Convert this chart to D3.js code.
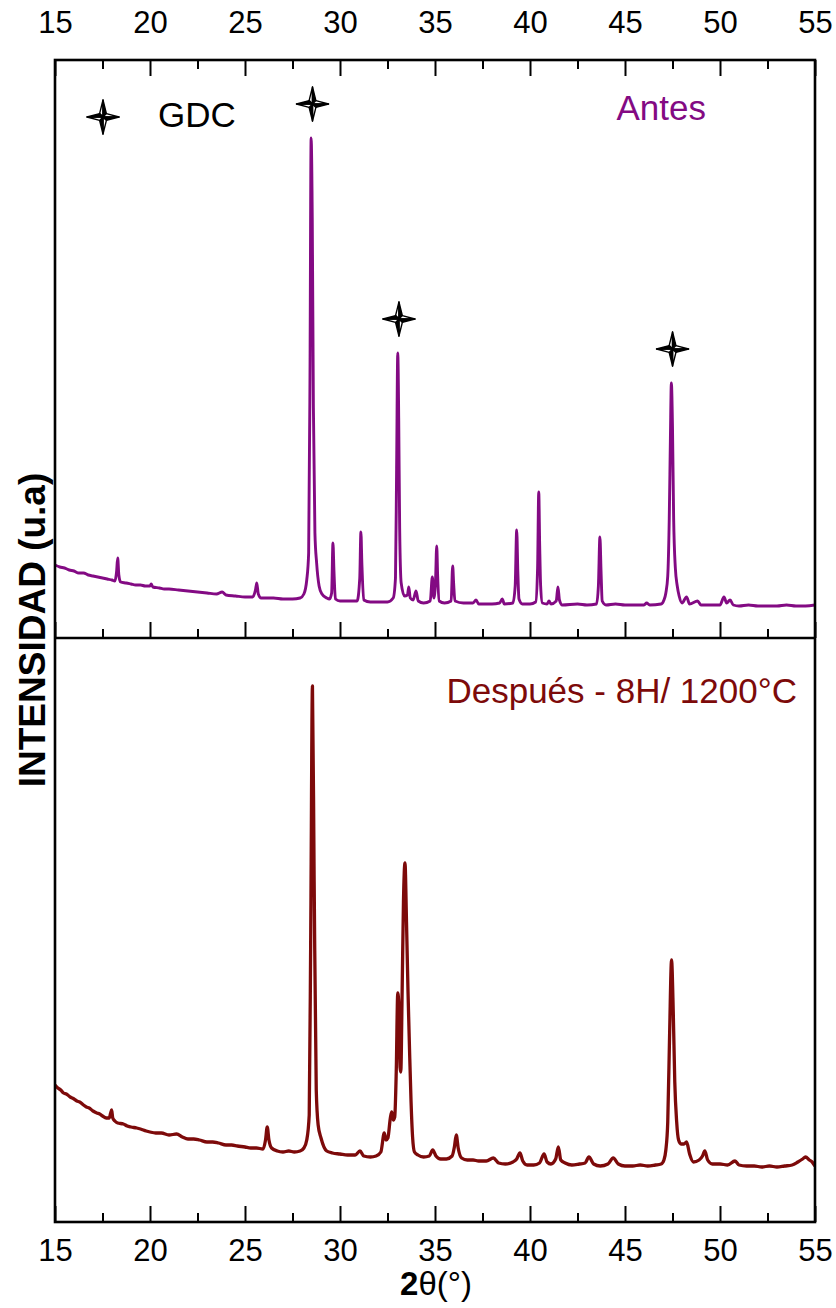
<!DOCTYPE html>
<html>
<head>
<meta charset="utf-8">
<script src="https://cdn.jsdelivr.net/npm/d3@7"></script>
<style>
  html, body { margin: 0; padding: 0; background: #ffffff; }
  svg { display: block; }
</style>
</head>
<body>
<svg id="chart" width="836" height="1308"></svg>
<script>
// X-ray diffraction patterns of GDC, before and after 8 h at 1200 °C
const majorTicks = [15, 20, 25, 30, 35, 40, 45, 50, 55];
const minorTicks = [17.5, 22.5, 27.5, 32.5, 37.5, 42.5, 47.5, 52.5];

const seriesNames = ["Antes", "Después - 8H/ 1200°C"];
const legendLabel = "GDC";
const gdcPeaks = [28.5, 33.05, 47.45];

// "Antes" pattern: 2θ (°) and intensity (a.u.)
const antesTheta = [
  15.00, 15.25, 15.50, 15.75, 16.00, 16.25, 16.50, 16.75, 17.00, 17.25, 17.50, 17.75, 18.00, 18.15, 18.24, 18.30, 18.36, 18.45, 18.75, 19.00,
  19.25, 19.50, 19.75, 20.00, 20.06, 20.15, 20.50, 20.75, 21.00, 21.50, 22.00, 22.50, 23.00, 23.50, 23.80, 24.00, 24.50, 25.00, 25.40, 25.55,
  25.62, 25.70, 25.85, 26.50, 27.00, 27.50, 27.90, 28.10, 28.25, 28.35, 28.42, 28.48, 28.54, 28.60, 28.68, 28.77, 28.90, 29.05, 29.30, 29.45,
  29.56, 29.63, 29.68, 29.76, 30.00, 30.50, 30.90, 31.04, 31.10, 31.15, 31.25, 31.60, 32.00, 32.50, 32.80, 32.92, 32.98, 33.04, 33.09, 33.14,
  33.22, 33.40, 33.55, 33.62, 33.70, 33.85, 34.00, 34.12, 34.40, 34.75, 34.86, 34.94, 35.03, 35.09, 35.14, 35.22, 35.50, 35.85, 35.93, 35.98,
  36.05, 36.50, 37.00, 37.16, 37.30, 38.00, 38.40, 38.54, 38.65, 39.10, 39.22, 39.30, 39.36, 39.42, 39.60, 40.00, 40.30, 40.40, 40.46, 40.51,
  40.56, 40.65, 40.90, 41.00, 41.10, 41.38, 41.47, 41.55, 41.70, 42.50, 43.00, 43.50, 43.60, 43.68, 43.74, 43.80, 44.00, 44.50, 45.00, 45.50,
  46.00, 46.14, 46.30, 46.90, 47.05, 47.15, 47.25, 47.33, 47.39, 47.44, 47.50, 47.56, 47.65, 47.75, 47.85, 48.00, 48.24, 48.40, 48.82, 49.00,
  49.50, 50.00, 50.21, 50.35, 50.53, 50.70, 51.00, 51.50, 52.00, 52.50, 53.00, 53.50, 54.00, 54.50, 55.00
];
const antesIntensity = [
  73, 71, 70, 68, 67, 65, 65, 63, 62, 61, 60, 59, 58, 57, 66, 80, 63, 56, 55, 54,
  53, 53, 52, 52, 54, 51, 50, 49, 49, 48, 47, 46, 45, 44, 46, 43, 42, 41, 41, 48,
  55, 44, 40, 40, 39, 39, 40, 44, 58, 85, 260, 500, 420, 230, 105, 75, 52, 44, 40, 39,
  45, 95, 68, 39, 37, 37, 37, 60, 106, 75, 38, 36, 36, 36, 40, 60, 170, 285, 220, 110,
  55, 42, 43, 51, 40, 38, 47, 37, 35, 37, 61, 40, 58, 92, 62, 37, 35, 37, 72, 55,
  37, 35, 35, 38, 34, 34, 35, 39, 34, 35, 52, 108, 66, 39, 34, 34, 36, 70, 146, 92,
  52, 35, 34, 37, 34, 37, 51, 38, 33, 34, 33, 34, 52, 101, 66, 37, 33, 34, 33, 33,
  33, 35, 33, 34, 38, 45, 62, 120, 200, 255, 210, 120, 70, 52, 42, 35, 41, 34, 37, 33,
  33, 33, 41, 35, 38, 33, 32, 33, 32, 32, 32, 33, 32, 32, 33
];

// "Después" pattern: 2θ (°) and intensity (a.u.)
const despuesTheta = [
  15.00, 15.15, 15.30, 15.45, 15.60, 15.80, 16.00, 16.15, 16.30, 16.50, 16.65, 16.80, 17.00, 17.20, 17.35, 17.50, 17.70, 17.85, 17.93, 17.98,
  18.04, 18.15, 18.30, 18.60, 18.80, 19.00, 19.30, 19.50, 19.80, 20.00, 20.30, 20.60, 21.00, 21.40, 21.70, 22.00, 22.30, 22.60, 23.00, 23.30,
  23.60, 24.00, 24.30, 24.60, 25.00, 25.30, 25.60, 25.95, 26.08, 26.17, 26.26, 26.40, 26.70, 27.00, 27.30, 27.60, 27.90, 28.10, 28.25, 28.38,
  28.46, 28.55, 28.64, 28.75, 28.85, 29.00, 29.30, 29.60, 30.00, 30.40, 30.80, 31.05, 31.25, 31.60, 31.90, 32.15, 32.33, 32.42, 32.52, 32.65,
  32.72, 32.80, 32.88, 32.96, 33.04, 33.10, 33.16, 33.20, 33.27, 33.34, 33.42, 33.50, 33.58, 33.66, 33.74, 33.82, 33.92, 34.10, 34.40, 34.70,
  34.88, 35.05, 35.30, 35.60, 35.90, 36.02, 36.12, 36.22, 36.40, 36.70, 37.00, 37.30, 37.70, 38.07, 38.35, 38.70, 39.10, 39.30, 39.47, 39.62,
  39.85, 40.20, 40.50, 40.74, 40.90, 41.10, 41.35, 41.49, 41.62, 41.85, 42.20, 42.60, 42.90, 43.10, 43.35, 43.70, 44.10, 44.38, 44.65, 45.00,
  45.40, 45.80, 46.20, 46.60, 46.90, 47.05, 47.15, 47.25, 47.35, 47.45, 47.54, 47.62, 47.72, 47.82, 47.95, 48.10, 48.24, 48.40, 48.60, 48.90,
  49.08, 49.20, 49.35, 49.60, 50.00, 50.40, 50.79, 51.00, 51.40, 51.80, 52.20, 52.60, 53.00, 53.40, 53.80, 54.10, 54.35, 54.50, 54.70, 54.85,
  55.00
];
const despuesIntensity = [
  137, 134, 132, 129, 128, 125, 123, 121, 120, 117, 115, 114, 111, 109, 108, 106, 104, 104, 109, 112,
  104, 101, 99, 98, 96, 95, 94, 93, 91, 90, 89, 89, 87, 88, 85, 83, 83, 82, 80, 80,
  79, 77, 77, 76, 75, 74, 74, 73, 82, 95, 82, 74, 71, 70, 71, 70, 71, 74, 82, 107,
  290, 536, 340, 132, 97, 84, 71, 69, 68, 67, 67, 71, 66, 65, 66, 70, 89, 82, 84, 104,
  110, 102, 105, 150, 229, 215, 155, 150, 230, 320, 359, 300, 230, 172, 120, 85, 70, 67, 65, 66,
  72, 66, 63, 63, 66, 75, 87, 74, 64, 62, 62, 61, 61, 64, 59, 58, 60, 63, 69, 61,
  57, 57, 59, 68, 60, 58, 63, 75, 62, 59, 57, 58, 59, 65, 58, 56, 58, 64, 58, 56,
  56, 57, 56, 57, 58, 62, 72, 100, 190, 262, 210, 140, 100, 82, 78, 78, 80, 68, 60, 62,
  66, 71, 62, 58, 58, 57, 61, 57, 56, 56, 55, 56, 55, 56, 57, 60, 63, 65, 62, 60,
  56
];

const colors = ["#830a83", "#7d0a0a"];

const svg = d3.select("#chart");
const frame = { left: 55, right: 815, top: 60, mid: 638, bottom: 1222 };

const x = d3.scaleLinear().domain([15, 55]).range([frame.left, frame.right]);
const yUpper = d3.scaleLinear().domain([0, 578]).range([frame.mid, frame.top]);
const yLower = d3.scaleLinear().domain([0, 584]).range([frame.bottom, frame.mid]);

const tickFont = "'Liberation Sans Narrow', 'Arial Narrow', 'Liberation Sans', Arial, sans-serif";
const textFont = "'Liberation Sans', Arial, Helvetica, sans-serif";

// Curves
const clipId = "plot-clip";
svg.append("defs").append("clipPath").attr("id", clipId)
  .append("rect")
  .attr("x", frame.left).attr("y", frame.top)
  .attr("width", frame.right - frame.left).attr("height", frame.bottom - frame.top);

function drawSeries(thetas, values, yScale, color, width) {
  const pts = thetas.map((t, i) => [t, values[i]]);
  const line = d3.line()
    .x(d => x(d[0]))
    .y(d => yScale(d[1]))
    .curve(d3.curveMonotoneX);
  svg.append("path")
    .datum(pts)
    .attr("clip-path", `url(#${clipId})`)
    .attr("fill", "none")
    .attr("stroke", color)
    .attr("stroke-width", width)
    .attr("stroke-linejoin", "round")
    .attr("d", line);
}
drawSeries(antesTheta, antesIntensity, yUpper, colors[0], 2.9);
drawSeries(despuesTheta, despuesIntensity, yLower, colors[1], 3.3);

// Axes: ticks point inward
function tickAxis(axisFn, yPos, values, size, withLabels, padding) {
  const a = axisFn(x).tickValues(values).tickSizeInner(size).tickSizeOuter(0);
  if (withLabels) a.tickFormat(d3.format("d")).tickPadding(padding);
  else a.tickFormat("");
  const g = svg.append("g").attr("transform", `translate(0,${yPos})`).call(a);
  g.select(".domain").remove();
  g.selectAll(".tick line").attr("stroke", "#000").attr("stroke-width", 2);
  g.selectAll(".tick text")
    .attr("fill", "#000")
    .style("font-family", tickFont)
    .style("font-size", "31px");
  return g;
}
tickAxis(d3.axisTop, frame.top, majorTicks, -16, true, 27);
tickAxis(d3.axisTop, frame.top, minorTicks, -9, false);
tickAxis(d3.axisBottom, frame.mid, majorTicks, -16, false);
tickAxis(d3.axisBottom, frame.mid, minorTicks, -9, false);
tickAxis(d3.axisBottom, frame.bottom, majorTicks, -16, true, 17);
tickAxis(d3.axisBottom, frame.bottom, minorTicks, -9, false);

// Frame and panel divider
svg.append("rect")
  .attr("x", frame.left).attr("y", frame.top)
  .attr("width", frame.right - frame.left).attr("height", frame.bottom - frame.top)
  .attr("fill", "none").attr("stroke", "#000").attr("stroke-width", 2.6);
svg.append("line")
  .attr("x1", frame.left).attr("x2", frame.right).attr("y1", frame.mid).attr("y2", frame.mid)
  .attr("stroke", "#000").attr("stroke-width", 2.6);

// Four-pointed star marker with shaded halves
function star(g, cx, cy) {
  const R = 17, r = 3.4;
  const s = g.append("g").attr("transform", `translate(${cx},${cy})`);
  const tips = [[0, -R], [R - 1, 0], [0, R], [-(R - 1), 0]];
  const inner = [[r, -r], [r, r], [-r, r], [-r, -r]];
  tips.forEach((tip, i) => {
    const prevInner = inner[(i + 3) % 4];
    const nextInner = inner[i];
    s.append("path")
      .attr("d", `M0,0L${prevInner[0]},${prevInner[1]}L${tip[0]},${tip[1]}Z`)
      .attr("fill", "#fff").attr("stroke", "#000").attr("stroke-width", 1.4).attr("stroke-linejoin", "round");
    s.append("path")
      .attr("d", `M0,0L${tip[0]},${tip[1]}L${nextInner[0]},${nextInner[1]}Z`)
      .attr("fill", "#000").attr("stroke", "#000").attr("stroke-width", 1.4).attr("stroke-linejoin", "round");
  });
}

// Mark the GDC reflections just above their peak maxima
gdcPeaks.forEach(p => {
  let best = 0;
  antesTheta.forEach((t, i) => {
    if (Math.abs(t - p) < 0.2 && antesIntensity[i] > best) best = antesIntensity[i];
  });
  star(svg, x(p) + 1, yUpper(best) - 34);
});

// Legend
star(svg, 103, 117);
svg.append("text")
  .attr("x", 158).attr("y", 127)
  .style("font-family", textFont).style("font-size", "35px")
  .attr("fill", "#000")
  .text(legendLabel);

svg.append("text")
  .attr("x", 706).attr("y", 120)
  .attr("text-anchor", "end")
  .style("font-family", textFont).style("font-size", "35px")
  .attr("fill", colors[0])
  .text(seriesNames[0]);

svg.append("text")
  .attr("x", 797).attr("y", 703)
  .attr("text-anchor", "end")
  .style("font-family", textFont).style("font-size", "35px")
  .attr("fill", colors[1])
  .text(seriesNames[1]);

// Axis titles
svg.append("text")
  .attr("transform", "translate(45,630) rotate(-90)")
  .attr("text-anchor", "middle")
  .style("font-family", textFont).style("font-size", "37px").style("font-weight", "bold")
  .attr("fill", "#000")
  .text("INTENSIDAD (u.a)");

const xt = svg.append("text")
  .attr("x", 436).attr("y", 1295)
  .attr("text-anchor", "middle")
  .style("font-family", tickFont).style("font-size", "33px")
  .attr("fill", "#000");
xt.append("tspan").style("font-weight", "bold").text("2");
xt.append("tspan").text("θ(°)");
</script>
</body>
</html>
